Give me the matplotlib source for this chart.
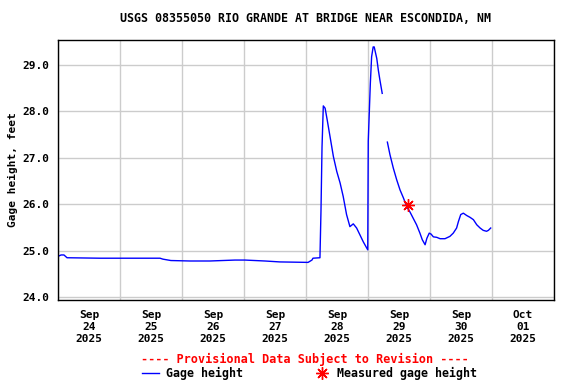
import datetime as dt
import numpy as np
import matplotlib
matplotlib.use("Agg")
import matplotlib.pyplot as plt
import matplotlib.dates as mdates

# gage height readings, hours after 2025-09-24 00:00 (NaN = gap in record)
hours = [0.0, 1.2, 2.3, 3.5, 16.3, 39.5, 40.6, 43.7, 51.1, 58.8, 68.5, 72.4,
         80.1, 85.9, 96.8, 98.3, 98.7, 101.4, 101.8, 102.2, 102.7, 103.4,
         104.2, 105.3, 106.6, 107.9, 109.2, 110.4, 111.7, 113.0, 114.3, 115.6,
         116.9, 118.2, 119.9, 120.1, 120.9, 121.4, 122.0, 122.4, 123.4, 124.0,
         124.6, 125.5, 126.5, 127.5, 128.5, 129.8, 131.1, 132.4, 133.7, 135.0,
         136.3, 137.5, 138.8, 140.1, 141.0, 142.1, 142.8, 143.7, 144.4, 145.3,
         146.6, 147.9, 149.8, 151.7, 153.0, 154.3, 155.0, 155.9, 156.9, 158.2,
         159.5, 160.8, 162.1, 163.4, 164.6, 165.9, 166.6, 167.5]
gage = [24.88, 24.91, 24.91, 24.85, 24.84, 24.84, 24.82, 24.79, 24.78, 24.78,
        24.80, 24.80, 24.78, 24.76, 24.75, 24.80, 24.84, 24.85, 25.86, 27.23,
        28.12, 28.07, 27.82, 27.46, 27.03, 26.71, 26.46, 26.17, 25.78, 25.52,
        25.58, 25.49, 25.34, 25.19, 25.02, 27.36, 28.60, 29.18, 29.39, 29.39,
        29.14, 28.89, 28.68, 28.39, np.nan, 27.34, 27.07, 26.78, 26.53, 26.31,
        26.14, 25.95, 25.83, 25.70, 25.56, 25.38, 25.24, 25.13, 25.27, 25.38,
        25.36, 25.30, 25.29, 25.26, 25.26, 25.31, 25.38, 25.49, 25.63, 25.78,
        25.81, 25.76, 25.72, 25.67, 25.56, 25.49, 25.44, 25.42, 25.44, 25.49]

meas_hours = [135.6]
meas_gage = [25.99]

yticks = [24.0, 25.0, 26.0, 27.0, 28.0, 29.0]
title = "USGS 08355050 RIO GRANDE AT BRIDGE NEAR ESCONDIDA, NM"

start = dt.datetime(2025, 9, 24)
t = [start + dt.timedelta(hours=h) for h in hours]
tm = [start + dt.timedelta(hours=h) for h in meas_hours]

font = dict(family="DejaVu Sans Mono", weight="bold")

fig = plt.figure(figsize=(5.76, 3.84), dpi=100)
ax = fig.add_axes([58 / 576, 84 / 384, 496 / 576, 260.5 / 384])

ax.plot(t, gage, color="#0000ff", lw=1.0)
ax.plot(tm, meas_gage, linestyle="none", marker=(8, 2, 0), color="red",
        markersize=9, markeredgewidth=1.0)

ax.set_xlim(start, start + dt.timedelta(days=8))
ax.set_ylim(23.94, 29.55)

# gridlines at midnight, labels at noon
ax.xaxis.set_major_locator(mdates.DayLocator())
ax.xaxis.set_major_formatter(plt.NullFormatter())
ax.xaxis.set_minor_locator(mdates.HourLocator(byhour=[12]))
ax.xaxis.set_minor_formatter(mdates.DateFormatter("%b\n%d\n%Y"))
ax.set_yticks(yticks)
ax.set_yticklabels([f"{v:.1f}" for v in yticks])

ax.grid(True, which="major", color="#cccccc", lw=1.0)
ax.tick_params(which="both", length=0, labelsize=8)
ax.tick_params(axis="x", which="minor", pad=7)
ax.tick_params(axis="y", pad=6)
for lab in ax.get_xticklabels(minor=True) + ax.get_yticklabels():
    lab.set_family("DejaVu Sans Mono")
    lab.set_weight("bold")
    lab.set_linespacing(1.25)
for s in ax.spines.values():
    s.set_linewidth(1.0)

ax.set_ylabel("Gage height, feet", fontsize=8, labelpad=3, **font)
fig.text(306 / 576, 1 - 19 / 384, title, ha="center", va="center", fontsize=8.4, **font)

fig.text(305 / 576, 1 - 359 / 384, "---- Provisional Data Subject to Revision ----",
         ha="center", va="center", color="red", fontsize=8.5, **font)
fig.add_artist(plt.Line2D([141.7 / 576, 159.3 / 576], [1 - 372.7 / 384] * 2,
                          color="#0000ff", lw=1.0))
fig.text(165.7 / 576, 1 - 373 / 384, "Gage height", ha="left", va="center",
         fontsize=8.4, **font)
fig.add_artist(plt.Line2D([321.7 / 576], [1 - 372.7 / 384], marker=(8, 2, 0),
                          color="red", markersize=9, markeredgewidth=1.0))
fig.text(336.7 / 576, 1 - 373 / 384, "Measured gage height", ha="left", va="center",
         fontsize=8.4, **font)

fig.savefig("out.png", dpi=100)
